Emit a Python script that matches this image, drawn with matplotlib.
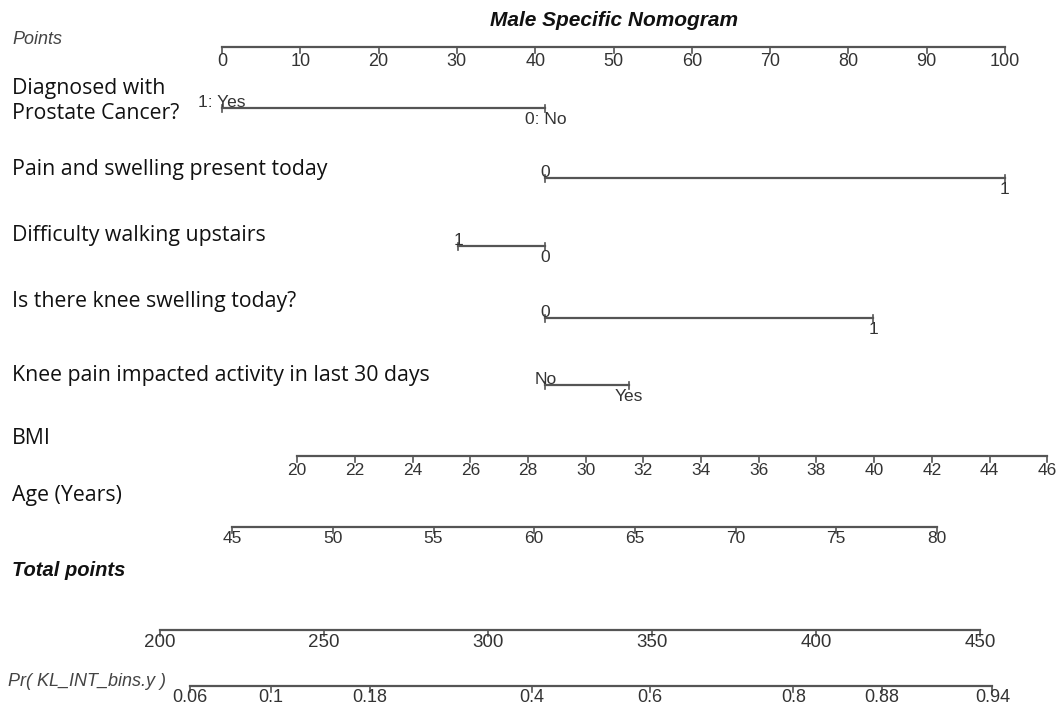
import numpy as np
import matplotlib
matplotlib.use("Agg")
import matplotlib.pyplot as plt

# --- nomogram values ---
points_ticks = [0, 10, 20, 30, 40, 50, 60, 70, 80, 90, 100]

cat_names = ["Diagnosed with\nProstate Cancer?",
             "Pain and swelling present today",
             "Difficulty walking upstairs",
             "Is there knee swelling today?",
             "Knee pain impacted activity in last 30 days"]
cat_levels = [["1: Yes", "0: No"],
              ["0", "1"],
              ["1", "0"],
              ["0", "1"],
              ["No", "Yes"]]
cat_points = [[0, 41.3],
              [41.3, 100],
              [30.2, 41.3],
              [41.3, 83.2],
              [41.3, 52.0]]

bmi_ticks = [20, 22, 24, 26, 28, 30, 32, 34, 36, 38, 40, 42, 44, 46]
bmi_points = [9.6, 105.4]      # points at BMI 20 and 46

age_ticks = [45, 50, 55, 60, 65, 70, 75, 80]
age_points = [1.3, 91.3]       # points at age 45 and 80

total_ticks = [200, 250, 300, 350, 400, 450]
total_points = [-7.9, 96.8]    # position (in points) of total 200 and 450

prob_ticks = [0.06, 0.1, 0.18, 0.4, 0.6, 0.8, 0.88, 0.94]
lp_intercept = -7.454          # linear predictor = a + b * total points
lp_slope = 0.02249

# --- layout ---
W, H = 1062, 706
px_per_pt = 7.83
x0_px = 222

fig = plt.figure(figsize=(W / 100, H / 100), dpi=100)
ax = fig.add_axes([0, 0, 1, 1])
ax.set_xlim(-x0_px / px_per_pt, (W - x0_px) / px_per_pt)
ax.set_ylim(H, 0)
ax.axis("off")

line_col = "#555555"
tick_col = "#333333"
lab_font = ["Open Sans", "DejaVu Sans"]
nom_font = ["Liberation Sans", "DejaVu Sans"]
lab_x = -x0_px / px_per_pt + 12 / px_per_pt
lab_size = 15.3


def lin(v, v0, v1, p0, p1):
    return p0 + (np.asarray(v, dtype=float) - v0) * (p1 - p0) / (v1 - v0)


def scale_row(y, xs, labels, size=12, gap=5):
    ax.plot([min(xs), max(xs)], [y, y], color=line_col, lw=1.6)
    for x, l in zip(xs, labels):
        ax.plot([x, x], [y, y + 6], color=line_col, lw=1.2)
        ax.text(x, y + gap, l, ha="center", va="top", fontsize=size,
                color=tick_col, family=nom_font)


# title and Points row
ax.text(614 / px_per_pt - x0_px / px_per_pt, 20, "Male Specific Nomogram",
        ha="center", va="center", fontsize=15, fontweight="bold",
        style="italic", family=nom_font, color="#111111")
ax.text(lab_x, 40, "Points", ha="left", va="center", fontsize=13,
        style="italic", family=nom_font, color="#444444")
scale_row(47, points_ticks, [str(t) for t in points_ticks], size=13, gap=6)

# categorical rows
cat_label_y = [101, 169, 236, 302, 375]
cat_line_y = [108, 178, 246, 318, 385]
for name, levs, pts, ly, y in zip(cat_names, cat_levels, cat_points,
                                  cat_label_y, cat_line_y):
    ax.text(lab_x, ly, name, ha="left", va="center", fontsize=lab_size,
            family=lab_font, color="#111111", linespacing=1.2)
    ax.plot(pts, [y, y], color=line_col, lw=1.6)
    for i, (p, l) in enumerate(zip(pts, levs)):
        ax.plot([p, p], [y - 3, y + 4], color=line_col, lw=1.2)
        if i == 0:
            ax.text(p, y + 2, l, ha="center", va="bottom", fontsize=12.5,
                    color=tick_col, family=nom_font)
        else:
            ax.text(p, y + 4, l, ha="center", va="top", fontsize=12.5,
                    color=tick_col, family=nom_font)

# BMI
ax.text(lab_x, 438, "BMI", ha="left", va="center", fontsize=lab_size,
        family=lab_font, color="#111111")
scale_row(456, lin(bmi_ticks, bmi_ticks[0], bmi_ticks[-1], *bmi_points),
          [str(t) for t in bmi_ticks], size=12.5, gap=7)

# Age
ax.text(lab_x, 495, "Age (Years)", ha="left", va="center", fontsize=lab_size,
        family=lab_font, color="#111111")
scale_row(527, lin(age_ticks, age_ticks[0], age_ticks[-1], *age_points),
          [str(t) for t in age_ticks], size=12.5, gap=4)

# Total points
ax.text(lab_x, 571, "Total points", ha="left", va="center", fontsize=14.5,
        fontweight="bold", style="italic", family=nom_font, color="#111111")
scale_row(630, lin(total_ticks, total_ticks[0], total_ticks[-1], *total_points),
          [str(t) for t in total_ticks], size=13.5, gap=4)

# probability row, placed through the total-points scale
logit = np.log(np.array(prob_ticks) / (1 - np.array(prob_ticks)))
prob_total = (logit - lp_intercept) / lp_slope
ax.text(-x0_px / px_per_pt + 8 / px_per_pt, 682, "Pr( KL_INT_bins.y )",
        ha="left", va="center", fontsize=13, style="italic",
        family=nom_font, color="#444444")
scale_row(686, lin(prob_total, total_ticks[0], total_ticks[-1], *total_points),
          [f"{p:g}" for p in prob_ticks], size=13, gap=3)

fig.savefig("out.png", dpi=100)
